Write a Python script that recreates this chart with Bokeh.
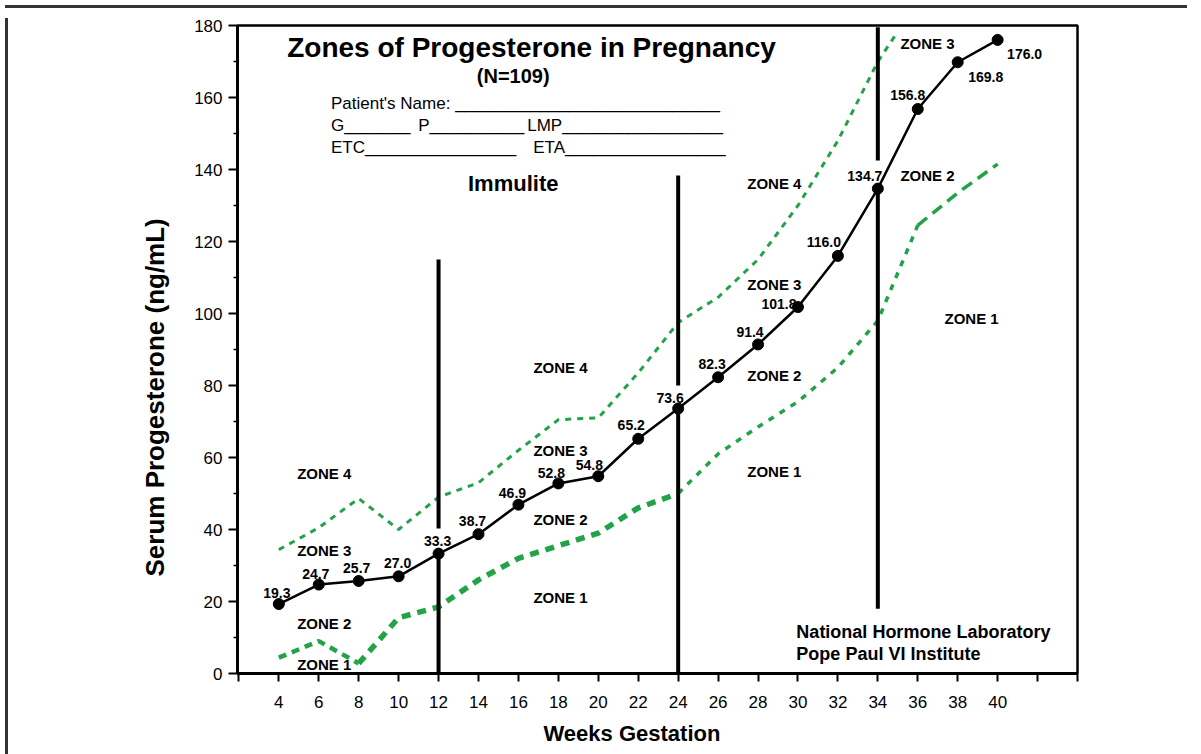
from bokeh.plotting import figure
from bokeh.models import FixedTicker, Range1d, Title, Div
from bokeh.layouts import column, row
from bokeh.core.properties import value
from bokeh.embed import file_html
from bokeh.resources import INLINE

# ---------------- data ----------------
weeks = [4, 6, 8, 10, 12, 14, 16, 18, 20, 22, 24, 26, 28, 30, 32, 34, 36, 38, 40]
progesterone = [19.3, 24.7, 25.7, 27.0, 33.3, 38.7, 46.9, 52.8, 54.8, 65.2, 73.6,
                82.3, 91.4, 101.8, 116.0, 134.7, 156.8, 169.8, 176.0]
value_labels = ["19.3", "24.7", "25.7", "27.0", "33.3", "38.7", "46.9", "52.8", "54.8",
                "65.2", "73.6", "82.3", "91.4", "101.8", "116.0", "134.7", "156.8",
                "169.8", "176.0"]

# zone 3 / zone 4 boundary
upper_weeks = [4, 6, 8, 10, 12, 14, 16, 18, 20, 22, 24, 26, 28, 30, 32, 34, 34.9]
upper_values = [34.4, 40.5, 48.6, 40.0, 49.0, 53.0, 62.0, 70.5, 71.0, 83.5, 97.5,
                104.5, 115.0, 130.0, 148.0, 170.0, 177.5]

# zone 1 / zone 2 boundary
lower_weeks = [4, 6, 8, 10, 12, 14, 16, 18, 20, 22, 24, 26, 28, 30, 32, 34, 36, 38, 40]
lower_values = [4.4, 9.0, 2.8, 15.5, 18.5, 26.0, 32.0, 35.5, 39.0, 46.0, 50.0,
                61.0, 68.5, 75.5, 85.0, 98.0, 124.5, 133.5, 141.5]

zone_names = ["ZONE 4", "ZONE 3", "ZONE 2", "ZONE 1",
              "ZONE 4", "ZONE 3", "ZONE 2", "ZONE 1",
              "ZONE 4", "ZONE 3", "ZONE 2", "ZONE 1",
              "ZONE 3", "ZONE 2", "ZONE 1"]
zone_weeks = [4.92, 4.92, 4.92, 4.92,
              16.75, 16.75, 16.75, 16.75,
              27.46, 27.46, 27.46, 27.46,
              35.13, 35.13, 37.34]
zone_levels = [55.6, 34.2, 13.9, 2.5,
               85.0, 61.9, 42.8, 21.1,
               136.1, 108.1, 82.8, 56.1,
               175.0, 138.3, 98.6]

divider_weeks = [12, 12, 24, 24, 34, 34]
divider_from = [0, 40.3, 0, 80.0, 18.0, 142.5]
divider_to = [33.3, 115.0, 73.6, 138.3, 134.7, 179.5]

x_ticks = list(range(2, 46, 2))
x_tick_labels = [""] + [str(w) for w in range(4, 42, 2)] + ["", ""]
y_ticks = list(range(0, 200, 20))
y_minor_ticks = list(range(10, 180, 20))

# label offsets (screen px) for the value labels
label_dx = [-2, -3, -2, -1, -1, -6, -6, -7, -9, -7, -8, -6, -8, -19, -14, -13, -10, 28, 27]
label_dy = [-11, -11, -13, -13, -13, -13, -12, -10, -11, -14, -11, -13, -12, -3, -14, -13, -14, 15, 14]

FONT = "Liberation Sans"
GREEN = "#22a347"
EDGE = "#333333"

p = figure(width=1179, height=741,
           x_range=Range1d(1.93, 44.0), y_range=Range1d(0, 180),
           output_backend="svg", toolbar_location=None,
           min_border_left=224, min_border_right=115,
           min_border_top=12, min_border_bottom=81)
p.xgrid.visible = False
p.ygrid.visible = False
p.outline_line_color = "black"
p.outline_line_width = 2.5
p.background_fill_color = "white"
p.border_fill_color = "white"

# axes
xa = p.xaxis[0]
xa.ticker = FixedTicker(ticks=x_ticks)
xa.major_label_overrides = dict(zip(x_ticks, x_tick_labels))
xa.minor_tick_line_color = None
xa.major_tick_in = 0
xa.major_tick_out = 8
xa.major_tick_line_width = 2
xa.axis_line_width = 3
xa.major_label_standoff = 14
xa.major_label_text_font = FONT
xa.major_label_text_font_size = "17px"
xa.major_label_text_color = "black"

ya = p.yaxis[0]
ya.ticker = FixedTicker(ticks=y_ticks, minor_ticks=y_minor_ticks)
ya.major_tick_in = 0
ya.major_tick_out = 9
ya.minor_tick_in = 0
ya.minor_tick_out = 4
ya.major_tick_line_width = 2
ya.minor_tick_line_width = 1.5
ya.axis_line_width = 3
ya.major_label_standoff = 6
ya.major_label_text_font = FONT
ya.major_label_text_font_size = "17px"
ya.major_label_text_color = "black"

# axis titles
p.add_layout(Title(text="Weeks Gestation", align="left", offset=306, standoff=17,
                   text_font=FONT, text_font_style="bold", text_font_size="22px",
                   text_color="black"), "below")
p.add_layout(Title(text="Serum Progesterone (ng/mL)", align="left", offset=97, standoff=43,
                   text_font=FONT, text_font_style="bold", text_font_size="26px",
                   text_color="black"), "left")

# zone boundaries
p.line(upper_weeks, upper_values, line_color=GREEN, line_width=3, line_dash="6 6")
p.line(lower_weeks[0:3], lower_values[0:3], line_color=GREEN, line_width=4.5, line_dash="8 6")
p.line(lower_weeks[2:11], lower_values[2:11], line_color=GREEN, line_width=5.5, line_dash="9 7")
p.line(lower_weeks[10:17], lower_values[10:17], line_color=GREEN, line_width=3.5, line_dash="6 7")
p.line(lower_weeks[16:19], lower_values[16:19], line_color=GREEN, line_width=3.5, line_dash="12 7")

# dividers
p.segment(x0=divider_weeks, y0=divider_from, x1=divider_weeks, y1=divider_to,
          line_color="black", line_width=4)

# main curve
p.line(weeks, progesterone, line_color="black", line_width=2.5)
p.scatter(weeks, progesterone, size=11, fill_color="black", line_color="black")
p.text(weeks, progesterone, text=value_labels, x_offset=label_dx, y_offset=label_dy,
       text_align="center", text_baseline="middle", text_font=value(FONT),
       text_font_style="bold", text_font_size="14px", text_color="black")

# zone names
p.text(zone_weeks, zone_levels, text=zone_names, text_align="left", text_baseline="middle",
       text_font=value(FONT), text_font_style="bold", text_font_size="15px",
       text_color="black")

# title block
p.text([16.85], [173.9], text=["Zones of Progesterone  in Pregnancy"], text_align="center",
       text_baseline="middle", text_font=value(FONT), text_font_style="bold",
       text_font_size="28px", text_color="black")
p.text([15.74], [166.1], text=["(N=109)"], text_align="center", text_baseline="middle",
       text_font=value(FONT), text_font_style="bold", text_font_size="20px",
       text_color="black")
form_x = [6.61, 6.61, 10.98, 16.44, 6.61, 16.74]
form_y = [158.3, 152.2, 152.2, 152.2, 146.1, 146.1]
form_text = ["Patient's Name: " + "_" * 28, "G" + "_" * 7, "P" + "_" * 10,
             "LMP" + "_" * 17, "ETC" + "_" * 16, "ETA" + "_" * 17]
p.text(form_x, form_y, text=form_text, text_align="left", text_baseline="middle",
       text_font=value(FONT), text_font_size="17px", text_color="black")
p.text([15.74], [136.1], text=["Immulite"], text_align="center", text_baseline="middle",
       text_font=value(FONT), text_font_style="bold", text_font_size="22px",
       text_color="black")
p.text([29.92, 29.92], [11.4, 5.3],
       text=["National Hormone Laboratory", "Pope Paul VI Institute"],
       text_align="left", text_baseline="middle", text_font=value(FONT),
       text_font_style="bold", text_font_size="18px", text_color="black")

# page frame (top and left edges of the sheet)
top_edge = Div(text="", width=1182, height=3, styles={"background-color": EDGE})
left_edge = Div(text="", width=3, height=741, styles={"background-color": EDGE})
page = column(top_edge, row(left_edge, p, spacing=0), spacing=0)

open("out.html", "w").write(file_html(page, INLINE))
